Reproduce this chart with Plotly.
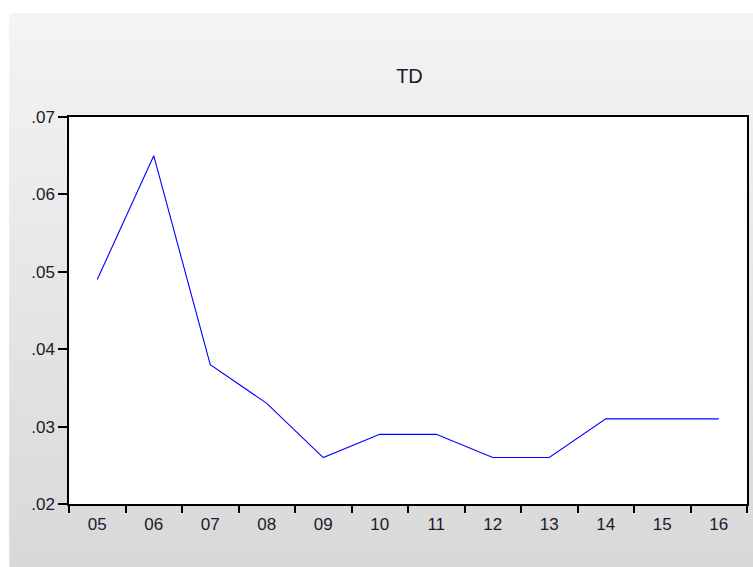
import plotly.graph_objects as go

years = ["05", "06", "07", "08", "09", "10", "11", "12", "13", "14", "15", "16"]
td = [0.049, 0.065, 0.038, 0.033, 0.026, 0.029, 0.029, 0.026, 0.026, 0.031, 0.031, 0.031]
y_tickvals = [0.02, 0.03, 0.04, 0.05, 0.06, 0.07]
y_ticktext = [".02", ".03", ".04", ".05", ".06", ".07"]

W, H = 753, 567
L, R, T, B = 69, 4, 117, 63
pw, ph = W - L - R, H - T - B

def px_x(x):
    return (x - L) / pw

def px_y(y):
    return (H - B - y) / ph

shapes = []
n = 60
top, bot = 13, 567
c0, c1 = 0xF4, 0xD8
for i in range(n):
    ya = top + (bot - top) * i / n
    yb = top + (bot - top) * (i + 1) / n
    c = round(c0 + (c1 - c0) * (i + 0.5) / n)
    col = f"rgb({c},{c},{c})"
    shapes.append(dict(type="rect", xref="paper", yref="paper",
                       x0=px_x(9), x1=px_x(W + 2), y0=px_y(yb + 0.5), y1=px_y(ya),
                       fillcolor=col, line=dict(width=0), layer="below"))
shapes.append(dict(type="rect", xref="paper", yref="paper", x0=0, x1=1, y0=0, y1=1,
                   fillcolor="white", line=dict(width=0), layer="below"))

fig = go.Figure(go.Scatter(x=years, y=td, mode="lines",
                           line=dict(color="#0000ff", width=1.1), showlegend=False))

fig.update_layout(
    width=W, height=H,
    margin=dict(l=L, r=R, t=T, b=B),
    paper_bgcolor="white", plot_bgcolor="white",
    font=dict(family="Liberation Sans, Arial", size=17, color="#1a1a2a"),
    title=dict(text="TD", x=409.5 / W, xanchor="center", y=1 - 76 / H, yanchor="middle",
               font=dict(size=20, color="#1a1a2a")),
    shapes=shapes,
)
fig.update_xaxes(type="category", range=[-0.5, 11.5], tickson="boundaries",
                 ticks="outside", ticklen=7, tickcolor="black", tickwidth=1.5,
                 showline=True, linecolor="black", linewidth=1.5, mirror=True,
                 showgrid=False, zeroline=False, tickfont=dict(size=17),
                 ticklabelstandoff=4)
fig.update_yaxes(range=[0.02, 0.07], tickvals=y_tickvals, ticktext=y_ticktext,
                 ticks="outside", ticklen=9, tickcolor="black", tickwidth=1.5,
                 showline=True, linecolor="black", linewidth=1.5, mirror=True,
                 showgrid=False, zeroline=False, tickfont=dict(size=17))

fig.write_html("out.html", config={"displayModeBar": False},
               post_script="document.body.style.margin='0px';")
